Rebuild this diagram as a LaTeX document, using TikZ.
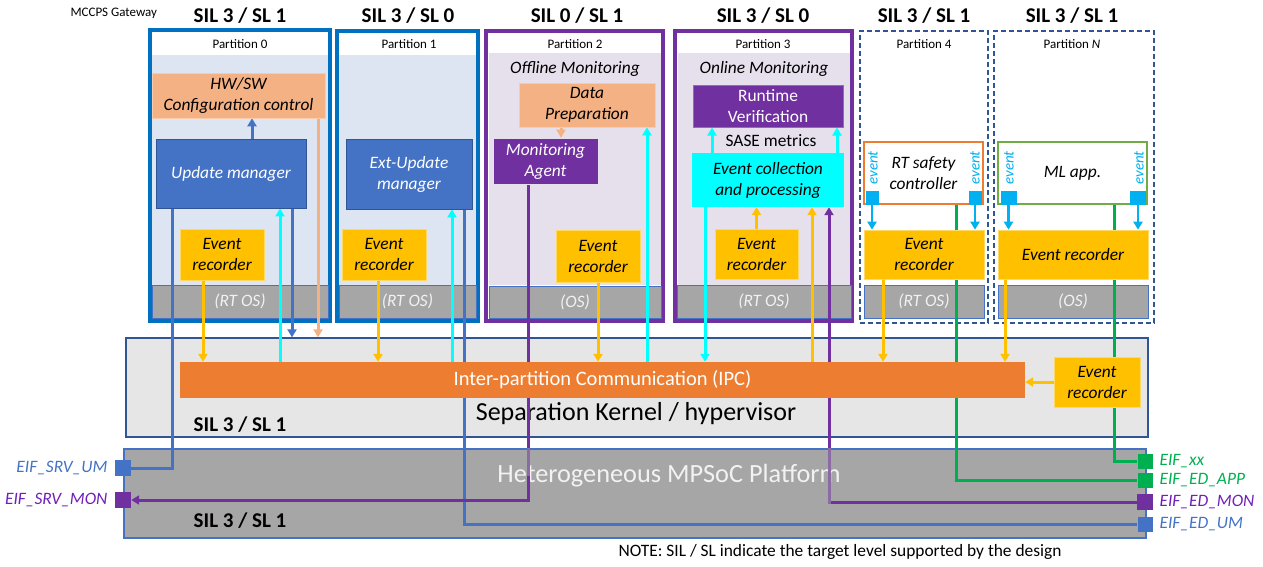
\documentclass[tikz,border=0pt]{standalone}
\usepackage{fontspec}
\setmainfont{Carlito}
\usetikzlibrary{arrows.meta}

\definecolor{frameblue}{HTML}{0070C0}
\definecolor{framepurple}{HTML}{7030A0}
\definecolor{paleblue}{HTML}{DEE5F2}
\definecolor{palepurple}{HTML}{E6E0EC}
\definecolor{osgrey}{HTML}{A6A6A6}
\definecolor{edgeblue}{HTML}{4472C4}
\definecolor{navy}{HTML}{2F5597}
\definecolor{salmon}{HTML}{F4B183}
\definecolor{salmonedge}{HTML}{F8CBAD}
\definecolor{amber}{HTML}{FFC000}
\definecolor{amberedge}{HTML}{FFD966}
\definecolor{aqua}{HTML}{00FFFF}
\definecolor{ipcorange}{HTML}{ED7D31}
\definecolor{kerngrey}{HTML}{E7E6E6}
\definecolor{leafgreen}{HTML}{00B050}
\definecolor{mlgreen}{HTML}{70AD47}
\definecolor{evblue}{HTML}{00B0F0}
\definecolor{monviolet}{HTML}{7020B8}
\definecolor{dimtext}{HTML}{F2F2F2}

\newcommand\fsz[2]{\fontsize{#1}{#2}\selectfont}

\pgfdeclarelayer{back}
\pgfdeclarelayer{front}
\pgfsetlayers{back,main,front}

\begin{document}
\begin{tikzpicture}[x=1pt,y=-1pt,
  bx/.style 2 args={rectangle,inner sep=0pt,minimum width=#1pt,minimum height=#2pt,align=center},
  frame/.style={draw,line width=4pt,fill=white},
  dframe/.style={draw=navy,line width=1.3pt,dash pattern=on 5pt off 3pt},
  body/.style={font=\fsz{17.4}{21}\itshape},
  osbar/.style={fill=osgrey,draw=edgeblue,line width=1pt,text=dimtext,body},
  rec/.style={fill=amber,draw=amberedge,line width=0.6pt,body},
  plabel/.style={font=\fsz{13}{15}},
  sil/.style={font=\fsz{21}{24}\bfseries},
  evsq/.style={rectangle,inner sep=0pt,minimum height=14pt,fill=evblue},
  evtxt/.style={rotate=90,text=evblue,font=\fsz{15}{17}\itshape},
  port/.style={rectangle,inner sep=0pt,minimum size=16pt},
  portlbl/.style={font=\fsz{17.4}{20}\itshape},
  wire/.style={line width=3pt},
  evwire/.style={line width=2.5pt,draw=evblue},
  arrowed/.style={-{Triangle[length=8pt,width=9pt]}},
]
\useasboundingbox (0,0) rectangle (1263,566);

\begin{pgfonlayer}{back}
\node[plabel,anchor=west] (title) at (67,13) {MCCPS Gateway};

% Partition 0
\node[sil] (sil0) at (240,16) {SIL 3 / SL 1};
\node[frame,draw=frameblue,bx={180}{291}] (p0) at (240,175.5) {};
\node[bx={176}{230},fill=paleblue] (p0in) at (240,170) {};
\node[plabel] (p0name) at (240,44) {Partition 0};
\node[osbar,bx={176}{33}] (os0) at (240,301.5) {(RT OS)};

% Partition 1
\node[sil] (sil1) at (408,16) {SIL 3 / SL 0};
\node[frame,draw=frameblue,bx={141}{290}] (p1) at (407.5,176) {};
\node[bx={137}{230},fill=paleblue] (p1in) at (407.5,170) {};
\node[plabel] (p1name) at (409,44) {Partition 1};
\node[osbar,bx={137}{33}] (os1) at (407.5,301.5) {(RT OS)};

% Partition 2
\node[sil] (sil2) at (577,16) {SIL 0 / SL 1};
\node[frame,draw=framepurple,bx={177}{290}] (p2) at (574.5,176) {};
\node[bx={172}{232},fill=palepurple] (p2in) at (575,169) {};
\node[plabel] (p2name) at (575,44) {Partition 2};
\node[body] (offmon) at (575,69) {Offline Monitoring};
\node[osbar,bx={172}{32}] (os2) at (575,302) {(OS)};

% Partition 3
\node[sil] (sil3) at (763,16) {SIL 3 / SL 0};
\node[frame,draw=framepurple,bx={177}{290}] (p3) at (763.5,176) {};
\node[bx={172}{232},fill=palepurple] (p3in) at (764,169) {};
\node[plabel] (p3name) at (763,44) {Partition 3};
\node[body] (onmon) at (764,69) {Online Monitoring};
\node[osbar,bx={174}{33}] (os3) at (764,301.5) {(RT OS)};

% Partition 4
\node[sil] (sil4) at (924,16) {SIL 3 / SL 1};
\node[dframe,bx={128}{292}] (p4) at (924,177) {};
\node[plabel] (p4name) at (924,44) {Partition 4};
\node[osbar,bx={120}{33}] (os4) at (924,301.5) {(RT OS)};

% Partition N
\node[sil] (silN) at (1072,16) {SIL 3 / SL 1};
\node[dframe,bx={160}{292}] (pN) at (1074,177) {};
\node[plabel] (pNname) at (1072,44) {Partition \textit{N}};
\node[osbar,bx={150}{33}] (osN) at (1073,301.5) {(OS)};

% Separation kernel and platform
\node[bx={1022}{99},fill=kerngrey,draw=navy,line width=1.3pt] (kern) at (637,387.5) {};
\node[font=\fsz{26}{29}] (kernname) at (636,414) {Separation Kernel / hypervisor};
\node[font=\fsz{21}{24}\bfseries] (silk) at (240,425) {SIL 3 / SL 1};
\node[bx={1022}{89},fill=osgrey,draw=edgeblue,line width=1.3pt] (plat) at (635,493.5) {};
\node[font=\fsz{26.3}{29},text=dimtext] (platname) at (669,476) {Heterogeneous MPSoC Platform};
\node[font=\fsz{21}{24}\bfseries] (silp) at (240,521) {SIL 3 / SL 1};

\node[font=\fsz{17.4}{20},anchor=west] (note) at (615,552) {NOTE: SIL / SL indicate the target level supported by the design};
\end{pgfonlayer}

\begin{pgfonlayer}{front}
% Partition 0 blocks
\node[bx={173}{45},fill=salmon,draw=salmonedge,line width=0.6pt,body] (hwsw) at (238.5,95.5) {HW/SW\\Configuration control};
\node[bx={150}{69},fill=edgeblue,draw=navy,line width=0.8pt,text=white,body] (um0) at (231,173.5) {Update manager};
\node[rec,bx={84}{51}] (er0) at (222,254.5) {Event\\recorder};
% Partition 1 blocks
\node[bx={126}{70},fill=edgeblue,draw=navy,line width=0.8pt,text=white,body] (eum) at (409,174) {Ext-Update\\manager};
\node[rec,bx={84}{51}] (er1) at (384,254.5) {Event\\recorder};
% Partition 2 blocks
\node[bx={136}{44},fill=salmon,draw=salmonedge,line width=0.6pt,body] (dp) at (587,105) {Data\\Preparation};
\node[bx={105}{46},fill=framepurple,draw=palepurple,line width=0.6pt,text=white,body] (ma) at (545.5,161) {Monitoring\\Agent};
\node[rec,bx={84}{52}] (er2) at (598,256) {Event\\recorder};
% Partition 3 blocks
\node[bx={150}{42},fill=framepurple,draw=gray,line width=1pt,text=white,font=\fsz{17.4}{21}] (rv) at (768,106) {Runtime\\Verification};
\node[font=\fsz{17.4}{21}] (sase) at (771,141) {SASE metrics};
\node[bx={152}{54},fill=aqua,body] (ecp) at (768,180) {Event collection\\and processing};
\node[rec,bx={83}{50}] (er3) at (756.5,254) {Event\\recorder};
% Partition 4 blocks
\node[bx={119}{62},fill=white,draw=ipcorange,line width=1.2pt,body] (rtsc) at (923.5,173) {RT safety\\controller};
\node[evsq,minimum width=13pt] (ev4l) at (872,198) {};
\node[evsq,minimum width=13pt] (ev4r) at (975,198) {};
\node[evtxt] (e4l) at (873,168) {event};
\node[evtxt] (e4r) at (975,168) {event};
\node[rec,bx={120}{49}] (er4) at (924,254.5) {Event\\recorder};
% Partition N blocks
\node[bx={149}{62},fill=white,draw=mlgreen,line width=1.2pt,body] (ml) at (1072.5,173) {ML app.};
\node[evsq,minimum width=16pt] (evnl) at (1008.5,198) {};
\node[evsq,minimum width=16pt] (evnr) at (1138,198) {};
\node[evtxt] (enl) at (1009,168) {event};
\node[evtxt] (enr) at (1139,168) {event};
\node[rec,bx={150}{49}] (ern) at (1073,254.5) {Event recorder};
% Kernel blocks
\node[bx={845}{36},fill=ipcorange,text=white,font=\fsz{20.5}{23}] (ipc) at (602.5,380) {Inter-partition Communication (IPC)};
\node[rec,bx={86}{50}] (erk) at (1097,382) {Event\\recorder};
% External interfaces
\node[port,fill=edgeblue] (srvum) at (123,468) {};
\node[port,fill=framepurple] (srvmon) at (123,500) {};
\node[portlbl,text=edgeblue,anchor=east] (srvumlbl) at (111,468) {EIF\_SRV\_UM};
\node[portlbl,text=monviolet,anchor=east] (srvmonlbl) at (111,500) {EIF\_SRV\_MON};
\node[port,minimum size=15pt,fill=leafgreen] (eifxx) at (1145,461) {};
\node[port,minimum size=15pt,fill=leafgreen] (edapp) at (1145,480) {};
\node[port,fill=framepurple] (edmon) at (1145,502) {};
\node[port,minimum size=15pt,fill=edgeblue] (edum) at (1145,524) {};
\node[portlbl,text=leafgreen,anchor=west] (eifxxlbl) at (1156,461) {EIF\_xx};
\node[portlbl,text=leafgreen,anchor=west] (edapplbl) at (1156,480) {EIF\_ED\_APP};
\node[portlbl,text=monviolet,anchor=west] (edmonlbl) at (1156,502) {EIF\_ED\_MON};
\node[portlbl,text=edgeblue,anchor=west] (edumlbl) at (1156,524) {EIF\_ED\_UM};
\end{pgfonlayer}

% Partition 0 connections
\draw[wire,draw=edgeblue,arrowed] ([xshift=21pt]um0.north) -- ([xshift=21pt]um0.north |- hwsw.south);
\draw[wire,draw=edgeblue] ([xshift=-59pt]um0.south) |- (srvum.east);
\draw[wire,draw=aqua,arrowed] ([xshift=49pt]um0.south |- ipc.north) -- ([xshift=49pt]um0.south);
\draw[wire,draw=edgeblue,arrowed] ([xshift=61pt]um0.south) -- ([xshift=61pt]um0.south |- kern.north);
\draw[wire,draw=salmon,arrowed] ([xshift=79.5pt]hwsw.south) -- ([xshift=79.5pt]hwsw.south |- kern.north);
\draw[wire,draw=amber,arrowed] ([xshift=-19pt]er0.south) -- ([xshift=-19pt]er0.south |- ipc.north);

% Partition 1 connections
\draw[wire,draw=amber,arrowed] ([xshift=-6pt]er1.south) -- ([xshift=-6pt]er1.south |- ipc.north);
\draw[wire,draw=aqua,arrowed] ([xshift=43pt]eum.south |- ipc.north) -- ([xshift=43pt]eum.south);
\draw[wire,draw=edgeblue] ([xshift=55pt]eum.south) |- (edum.west);

% Partition 2 connections
\draw[wire,draw=salmon,arrowed] ([xshift=-26pt]dp.south) -- ([xshift=-26pt]dp.south |- ma.north);
\draw[wire,draw=framepurple,arrowed] ([xshift=-17.5pt]ma.south) |- (srvmon.east);
\draw[wire,draw=osgrey,opacity=0.5] ([xshift=-17.5pt]ma.south |- plat.north) -- ([xshift=-17.5pt]ma.south |- srvum.south);
\draw[wire,draw=aqua,arrowed] ([xshift=60pt]dp.south |- ipc.north) -- ([xshift=60pt]dp.south);
\draw[wire,draw=amber,arrowed] (er2.south) -- (er2.south |- ipc.north);

% Partition 3 connections
\draw[wire,draw=aqua,arrowed] ([xshift=-56pt]ecp.north) -- ([xshift=-56pt]ecp.north |- rv.south);
\draw[wire,draw=aqua,arrowed] ([xshift=69pt]ecp.north) -- ([xshift=69pt]ecp.north |- rv.south);
\draw[wire,draw=aqua,arrowed] ([xshift=-63pt]ecp.south) -- ([xshift=-63pt]ecp.south |- ipc.north);
\draw[wire,draw=amber,arrowed] (er3.north) -- (er3.north |- ecp.south);
\draw[wire,draw=amber,arrowed] ([xshift=44pt]ecp.south |- ipc.north) -- ([xshift=44pt]ecp.south);
\draw[wire,draw=framepurple,arrowed] (edmon.west) -| ([xshift=61pt]ecp.south);
\draw[wire,draw=osgrey,opacity=0.5] ([xshift=61pt]ecp.south |- plat.north) -- ([xshift=61pt]ecp.south |- srvmon.south);

% Partition 4 connections
\draw[evwire,arrowed] (ev4l.south) -- (ev4l.south |- er4.north);
\draw[evwire,arrowed] (ev4r.south) -- (ev4r.south |- er4.north);
\draw[wire,draw=leafgreen] ([xshift=32.5pt]rtsc.south) |- (edapp.west);
\draw[wire,draw=amber,arrowed] ([xshift=-41pt]er4.south) -- ([xshift=-41pt]er4.south |- ipc.north);

% Partition N connections
\draw[evwire,arrowed] (evnl.south) -- (evnl.south |- ern.north);
\draw[evwire,arrowed] (evnr.south) -- (evnr.south |- ern.north);
\draw[wire,draw=leafgreen] ([xshift=41.5pt]ml.south) |- (eifxx.west);
\draw[wire,draw=amber,arrowed] ([xshift=-68pt]ern.south) -- ([xshift=-68pt]ern.south |- ipc.north);

% Kernel event recorder
\draw[wire,draw=amber,arrowed] (erk.west) -- (erk.west -| ipc.east);
\end{tikzpicture}
\end{document}
